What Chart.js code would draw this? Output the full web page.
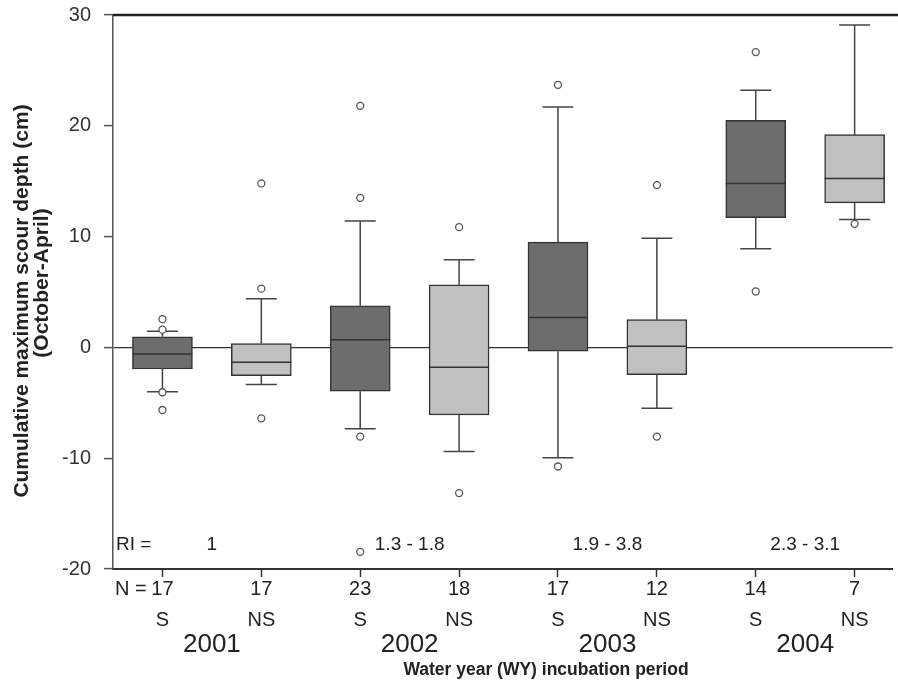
<!DOCTYPE html>
<html>
<head>
<meta charset="utf-8">
<script src="https://cdn.jsdelivr.net/npm/chart.js@4"></script>
<style>
  html, body { margin: 0; padding: 0; background: #fff; }
  canvas { display: block; }
</style>
</head>
<body>
<canvas id="scour-chart" width="898" height="690"></canvas>
<script>
// Box plot values (cm)
const groups = ['S', 'NS', 'S', 'NS', 'S', 'NS', 'S', 'NS'];
const sampleSizes = [17, 17, 23, 18, 17, 12, 14, 7];
const years = ['2001', '2002', '2003', '2004'];
const riLabels = ['1', '1.3 - 1.8', '1.9 - 3.8', '2.3 - 3.1'];

const whiskerLow = [-4.0, -3.35, -7.35, -9.4, -9.95, -5.5, 8.9, 11.55];
const quartile1 = [-1.95, -2.55, -3.95, -6.1, -0.35, -2.45, 11.7, 13.05];
const medians = [-0.6, -1.35, 0.7, -1.8, 2.7, 0.1, 14.8, 15.25];
const quartile3 = [0.95, 0.35, 3.75, 5.65, 9.5, 2.5, 20.5, 19.2];
const whiskerHigh = [1.45, 4.4, 11.4, 7.9, 21.7, 9.85, 23.2, 29.1];
const outliers = [
    [2.55, 1.6, -4.05, -5.65],
    [14.8, 5.3, -6.4],
    [21.8, 13.5, -8.05, -18.45],
    [10.85, -13.15],
    [23.7, -10.75],
    [14.65, -8.05],
    [26.65, 5.05],
    [11.15]
];

const yMin = -20, yMax = 30, yStep = 10;

const FONT = "'Liberation Sans', Arial, sans-serif";
const positions = groups.map(function(g, i) { return i + 1; });

const boxData = positions.map(function(x, i) {
    return { x: x, y: [quartile1[i], quartile3[i]] };
});
const outlierData = [];
outliers.forEach(function(list, i) {
    list.forEach(function(v) { outlierData.push({ x: positions[i], y: v }); });
});

/**
 * Whiskers, medians, frame and all the free text
 */
const boxExtras = {
    id: 'boxExtras',
    beforeDatasetsDraw: function(chart) {
        const ctx = chart.ctx, y = chart.scales.y;
        const bars = chart.getDatasetMeta(0).data;
        ctx.save();
        ctx.strokeStyle = '#444';
        ctx.lineWidth = 1.5;
        bars.forEach(function(bar, i) {
            const cx = bar.x, cap = 15.5;
            const pts = [[quartile3[i], whiskerHigh[i]], [quartile1[i], whiskerLow[i]]];
            pts.forEach(function(p) {
                const y0 = y.getPixelForValue(p[0]), y1 = y.getPixelForValue(p[1]);
                ctx.beginPath();
                ctx.moveTo(cx, y0); ctx.lineTo(cx, y1);
                ctx.moveTo(cx - cap, y1); ctx.lineTo(cx + cap, y1);
                ctx.stroke();
            });
        });
        ctx.restore();
    },
    afterDatasetsDraw: function(chart) {
        const ctx = chart.ctx, y = chart.scales.y;
        const bars = chart.getDatasetMeta(0).data;
        ctx.save();
        ctx.strokeStyle = '#333';
        ctx.lineWidth = 1.5;
        bars.forEach(function(bar, i) {
            const my = y.getPixelForValue(medians[i]);
            ctx.beginPath();
            ctx.moveTo(bar.x - bar.width / 2, my);
            ctx.lineTo(bar.x + bar.width / 2, my);
            ctx.stroke();
        });
        ctx.restore();
    },
    afterDraw: function(chart) {
        const ctx = chart.ctx, area = chart.chartArea, x = chart.scales.x;
        ctx.save();

        // top frame line
        ctx.strokeStyle = '#222';
        ctx.lineWidth = 2.5;
        ctx.beginPath();
        ctx.moveTo(area.left, area.top);
        ctx.lineTo(chart.width, area.top);
        ctx.stroke();

        ctx.fillStyle = '#222';

        // y axis title, two lines
        ctx.font = 'bold 21px ' + FONT;
        ctx.textAlign = 'center';
        ctx.textBaseline = 'alphabetic';
        ctx.save();
        ctx.translate(28, 301);
        ctx.rotate(-Math.PI / 2);
        ctx.fillText('Cumulative maximum scour depth (cm)', 0, 0);
        ctx.restore();
        ctx.save();
        ctx.translate(48, 283);
        ctx.rotate(-Math.PI / 2);
        ctx.fillText('(October-April)', 0, 0);
        ctx.restore();

        // RI row inside the plot
        ctx.font = '19px ' + FONT;
        ctx.textAlign = 'left';
        ctx.fillText('RI =', 116, 550);
        ctx.textAlign = 'center';
        riLabels.forEach(function(t, k) {
            ctx.fillText(t, x.getPixelForValue(2 * k + 1.5), 550);
        });

        // N row and group row
        ctx.font = '20px ' + FONT;
        ctx.textAlign = 'left';
        ctx.fillText('N =', 115, 595);
        ctx.textAlign = 'center';
        sampleSizes.forEach(function(n, i) {
            ctx.fillText(String(n), x.getPixelForValue(positions[i]), 595);
        });
        groups.forEach(function(g, i) {
            ctx.fillText(g, x.getPixelForValue(positions[i]), 626);
        });

        // years
        ctx.font = '26px ' + FONT;
        years.forEach(function(t, k) {
            ctx.fillText(t, x.getPixelForValue(2 * k + 1.5), 652);
        });

        // x axis title
        ctx.font = 'bold 17.5px ' + FONT;
        ctx.fillText('Water year (WY) incubation period', 546, 675);

        ctx.restore();
    }
};

new Chart(document.getElementById('scour-chart'), {
    type: 'bar',
    data: {
        datasets: [
            {
                type: 'bar',
                data: boxData,
                backgroundColor: groups.map(function(g) { return g === 'S' ? '#6d6d6d' : '#c0c0c0'; }),
                borderColor: '#333',
                borderWidth: 1.5,
                borderSkipped: false,
                barThickness: 60,
                order: 2
            },
            {
                type: 'scatter',
                data: outlierData,
                pointRadius: 3.5,
                pointBorderWidth: 1.3,
                pointBorderColor: '#555',
                pointBackgroundColor: '#fff',
                order: 1
            }
        ]
    },
    options: {
        responsive: false,
        animation: false,
        layout: { padding: { top: 15, right: 0, left: 0, bottom: 0 } },
        plugins: {
            legend: { display: false },
            tooltip: { enabled: false }
        },
        scales: {
            x: {
                type: 'linear',
                offset: false,
                min: 0.5,
                max: 8.385,
                afterBuildTicks: function(scale) {
                    scale.ticks = positions.map(function(v) { return { value: v }; });
                },
                afterFit: function(scale) {
                    scale.height = 121;
                    scale.paddingLeft = 0;
                    scale.paddingRight = 0;
                },
                ticks: { display: false },
                grid: {
                    offset: false,
                    drawOnChartArea: false,
                    drawTicks: true,
                    tickLength: 8,
                    tickColor: '#333',
                    tickWidth: 1.5
                },
                border: { color: '#333', width: 2 }
            },
            y: {
                min: yMin,
                max: yMax,
                afterFit: function(scale) {
                    scale.width = 113;
                    scale.paddingTop = 0;
                    scale.paddingBottom = 0;
                },
                ticks: {
                    stepSize: yStep,
                    color: '#333',
                    padding: 13,
                    font: { family: FONT, size: 20 }
                },
                grid: {
                    color: function(c) {
                        return c.tick && c.tick.value === 0 ? '#333' : 'rgba(0,0,0,0)';
                    },
                    lineWidth: 1.2,
                    tickColor: '#555',
                    tickLength: 9,
                    tickWidth: 1.5
                },
                border: { color: '#555', width: 1.5 }
            }
        }
    },
    plugins: [boxExtras]
});
</script>
</body>
</html>
